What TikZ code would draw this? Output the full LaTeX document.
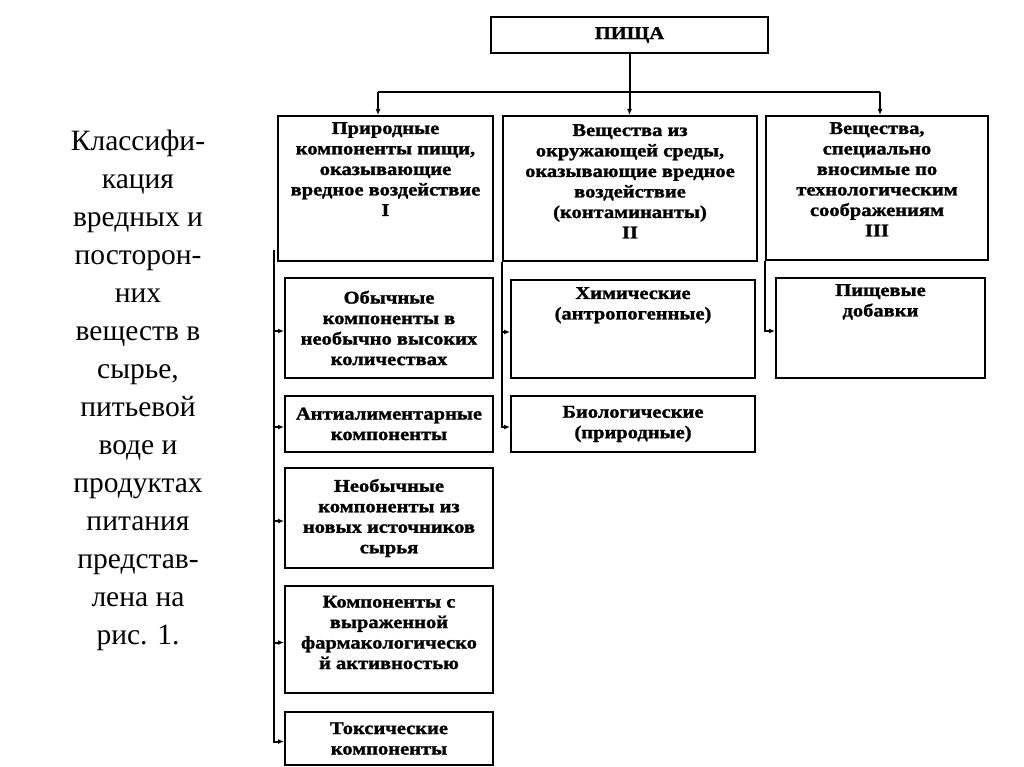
\documentclass[tikz,border=0pt]{standalone}
\usepackage{fontspec}
\setmainfont{Liberation Serif}
\newfontfamily\sidefont{Liberation Serif}
\newfontfamily\boxfont[FakeStretch=1.14,FakeBold=1.4]{Liberation Serif}
\usetikzlibrary{arrows.meta,positioning}
\tikzset{
  box/.style={draw, line width=2pt, rectangle, inner sep=0pt, align=center,
    font=\boxfont\bfseries\fontsize{18}{20.5}\selectfont},
  txt/.style={align=center, inner sep=0pt, font=\boxfont\bfseries\fontsize{18}{20.5}\selectfont},
  conn/.style={line width=2pt},
  arr/.style={line width=2pt, -{Latex[length=6pt,width=5pt]}},
  side/.style={align=center, inner sep=0pt, font=\sidefont\fontsize{29.5}{38}\selectfont}
}
\begin{document}
\begin{tikzpicture}[x=1pt,y=-1pt]
\useasboundingbox (0,0) rectangle (1024,767);
% left text
\node[side] (side) at (138,390) {Классифи-\\кация\\вредных и\\посторон-\\них\\веществ в\\сырье,\\питьевой\\воде и\\продуктах\\питания\\представ-\\лена на\\рис. 1.};
% top
\node[box, minimum width=277pt, minimum height=36pt] (top) at (629.5,35) {ПИЩА};
% level 1
\node[box, minimum width=215pt, minimum height=145pt] (b1) at (385.5,188.5) {};
\node[box, minimum width=254pt, minimum height=145pt] (b2) at (630,188.5) {};
\node[box, minimum width=222pt, minimum height=144pt] (b3) at (877,188) {};
\node[txt, below=7pt of b1.north] (t1) {Природные\\компоненты пищи,\\оказывающие\\вредное воздействие\\I};
\node[txt, below=9pt of b2.north] (t2) {Вещества из\\окружающей среды,\\оказывающие вредное\\воздействие\\(контаминанты)\\II};
\node[txt, below=7pt of b3.north] (t3) {Вещества,\\специально\\вносимые по\\технологическим\\соображениям\\III};
% branch I
\node[box, minimum width=208pt, minimum height=100pt] (a1) at (389,328) {Обычные\\компоненты в\\необычно высоких\\количествах};
\node[box, minimum width=208pt, minimum height=56pt] (a2) at (389,424) {Антиалиментарные\\компоненты};
\node[box, minimum width=208pt, minimum height=100pt] (a3) at (389,518) {Необычные\\компоненты из\\новых источников\\сырья};
\node[box, minimum width=208pt, minimum height=107pt] (a4) at (389,639.5) {};
\node[txt] (ta4) at ([yshift=7pt]a4.center) {Компоненты с\\выраженной\\фармакологическо\\й активностью};
\node[box, minimum width=208pt, minimum height=53pt] (a5) at (389,738.5) {Токсические\\компоненты};
% branch II
\node[box, minimum width=244pt, minimum height=98pt] (c1) at (633,329) {};
\node[txt, below=8pt of c1.north] (tc1) {Химические\\(антропогенные)};
\node[box, minimum width=244pt, minimum height=56pt] (c2) at (633,424) {Биологические\\(природные)};
% branch III
\node[box, minimum width=209pt, minimum height=100pt] (d1) at (880.5,328) {};
\node[txt, below=7pt of d1.north] (td1) {Пищевые\\добавки};
% connectors top
\coordinate (hl) at (378,92);
\coordinate (hr) at (880,92);
\draw[conn] (hl) -- (hr);
\draw[arr] (top.south) -- (top.south |- b2.north);
\draw[arr] (hl) -- (hl |- b1.north);
\draw[arr] (hr) -- (hr |- b3.north);
% branch connectors
\coordinate (v1) at (274,250);
\foreach \n in {a1,a2,a3,a4,a5} \draw[arr] (v1) |- ([yshift=-3pt]\n.west);
\foreach \n in {c1,c2} \draw[arr] (b2.south west) |- ([yshift=-3pt]\n.west);
\draw[arr] (b3.south west) |- ([yshift=-3pt]d1.west);
\end{tikzpicture}
\end{document}
